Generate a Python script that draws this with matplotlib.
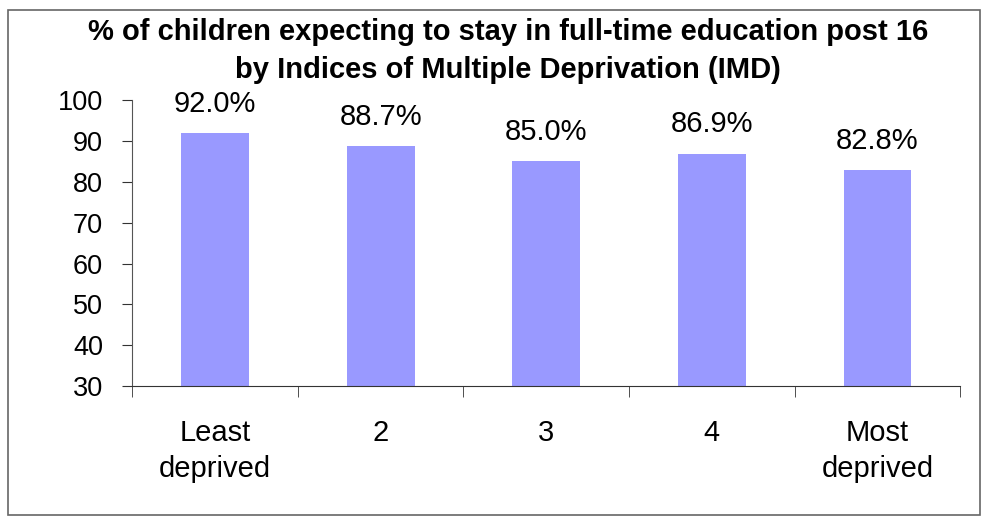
import matplotlib.pyplot as plt
import numpy as np
from matplotlib.patches import Rectangle

plt.rcParams['font.family'] = ['Liberation Sans', 'DejaVu Sans']

categories = ["Least\ndeprived", "2", "3", "4", "Most\ndeprived"]
values = [92.0, 88.7, 85.0, 86.9, 82.8]
labels = ["92.0%", "88.7%", "85.0%", "86.9%", "82.8%"]

fig = plt.figure(figsize=(9.87, 5.19), dpi=100)
ax = fig.add_axes([0.134, 0.256, 0.839, 0.551])

x = np.arange(len(categories))
base = 30
ax.bar(x, np.array(values) - base, bottom=base, width=0.41, color="#9999FF")

for xi, v, lab in zip(x, values, labels):
    ax.annotate(lab, (xi, v), xytext=(0, 11), textcoords="offset points",
                ha="center", va="bottom", fontsize=21)

ax.set_xlim(-0.5, len(categories) - 0.5)
ax.set_ylim(30, 100)
ax.set_yticks(range(30, 101, 10))
ax.set_xticks(x)
ax.set_xticklabels(categories, fontsize=21, linespacing=1.35)
ax.set_xticks(np.arange(-0.5, len(categories)), minor=True)
ax.tick_params(axis="x", which="major", length=0, pad=24)
ax.tick_params(axis="x", which="minor", length=8, direction="out", color="#333333")
ax.tick_params(axis="y", labelsize=19.5, length=7, direction="out", color="#333333", pad=14)

for s in ["top", "right"]:
    ax.spines[s].set_visible(False)
ax.spines["left"].set_color("#555555")
ax.spines["bottom"].set_color("#333333")

fig.text(0.515, 0.902, "% of children expecting to stay in full-time education post 16\n"
         "by Indices of Multiple Deprivation (IMD)",
         ha="center", va="center", fontsize=21, fontweight="bold", linespacing=1.45)

fig.patches.append(Rectangle((0.008, 0.008), 0.985, 0.972, transform=fig.transFigure,
                             fill=False, edgecolor="#666666", linewidth=1.2))

fig.savefig("out.png")
